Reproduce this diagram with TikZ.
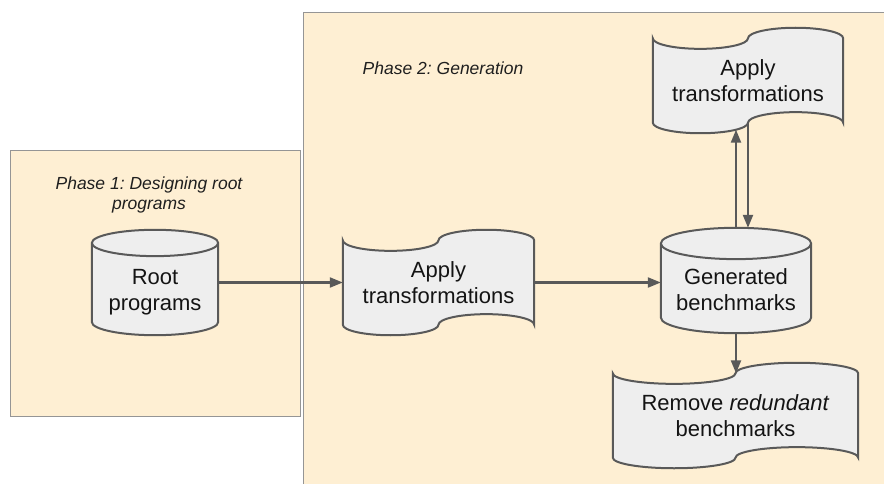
\documentclass[tikz,border=0pt]{standalone}
\usepackage{fontspec}
\setmainfont{Liberation Sans}
\usetikzlibrary{arrows.meta,calc}
\frenchspacing

\definecolor{phasefill}{HTML}{FEEFD3}
\definecolor{phaseline}{HTML}{959595}
\definecolor{shapefill}{HTML}{EEEEEE}
\definecolor{shapeline}{HTML}{595959}

\pgfdeclarelayer{frames}
\pgfsetlayers{frames,main}

\tikzset{
  phase/.style={fill=phasefill,draw=phaseline,line width=1pt},
  phasetext/.style={font=\fontsize{17.5}{20.5}\selectfont\itshape,align=center,text=black!88},
  box/.style={font=\fontsize{22}{26}\selectfont,align=center,inner sep=0pt,text=black!92},
  tape/.style={box,minimum height=84pt},
  drum/.style={box,minimum height=105pt},
  outline/.style={fill=shapefill,draw=shapeline,line width=2pt},
  arr/.style={draw=shapeline,line width=2.2pt,-{Triangle[length=13pt,width=10pt]}}
}

% wavy paper-tape outline round a node
\newcommand{\tapeframe}[1]{%
  \path[outline] let \p1=(#1.north west), \p2=(#1.south east),
      \n1={(\x2-\x1)/4}, \n2={(\y1-\y2)/8} in
    (\x1,\y1) arc[start angle=180,end angle=360,x radius=\n1,y radius=\n2]
    arc[start angle=180,end angle=0,x radius=\n1,y radius=\n2]
    -- (\x2,\y2) arc[start angle=0,end angle=180,x radius=\n1,y radius=\n2]
    arc[start angle=0,end angle=-180,x radius=\n1,y radius=\n2] -- cycle;}

% database drum round a node
\newcommand{\drumframe}[1]{%
  \path[outline] let \p1=(#1.north west), \p2=(#1.south east),
      \n1={(\x2-\x1)/2}, \n2={(\x2-\x1)/9.6} in
    (\x1,{\y1-\n2}) -- (\x1,{\y2+\n2})
    arc[start angle=180,end angle=360,x radius=\n1,y radius=\n2]
    -- (\x2,{\y1-\n2})
    arc[start angle=0,end angle=180,x radius=\n1,y radius=\n2] -- cycle
    (\x1,{\y1-\n2})
    arc[start angle=180,end angle=360,x radius=\n1,y radius=\n2];}

\begin{document}
\begin{tikzpicture}[x=1pt,y=1pt]
\clip (0,0) rectangle (884,483);

\node[phasetext] (p1label) at (149,288) {Phase 1: Designing root\\programs};
\node[phasetext] (p2label) at (443,415) {Phase 2: Generation};

\node[drum,minimum width=126pt] (root) at (155,200.5) {\rule{0pt}{34pt}Root\\programs};
\node[tape,minimum width=191pt] (apply) at (438.5,200.5) {Apply\\transformations};
\node[drum,minimum width=150pt] (gen) at (736,202.5) {\rule{0pt}{34pt}Generated\\benchmarks};
\node[tape,minimum width=190pt] (again) at (748,402.5) {Apply\\transformations};
\node[tape,minimum width=245pt] (remove) at (735.5,67.5) {Remove \textit{redundant}\\benchmarks};

\begin{pgfonlayer}{frames}
\draw[phase] (303,470) rectangle (900,-10);
\draw[phase] (10,67) rectangle (300,332);
\drumframe{root}
\drumframe{gen}
\tapeframe{apply}
\tapeframe{again}
\tapeframe{remove}
\end{pgfonlayer}

\draw[arr] (root.east) -- (apply.west);
\draw[arr] (apply.east) -- (apply.east -| gen.west);
\draw[arr] (gen.north) -- ([yshift=-7pt]gen.north |- again.south);
\draw[arr] (again.south) -- (again.south |- gen.north);
\draw[arr] (gen.south) -- (gen.south |- remove.north);
\end{tikzpicture}
\end{document}
